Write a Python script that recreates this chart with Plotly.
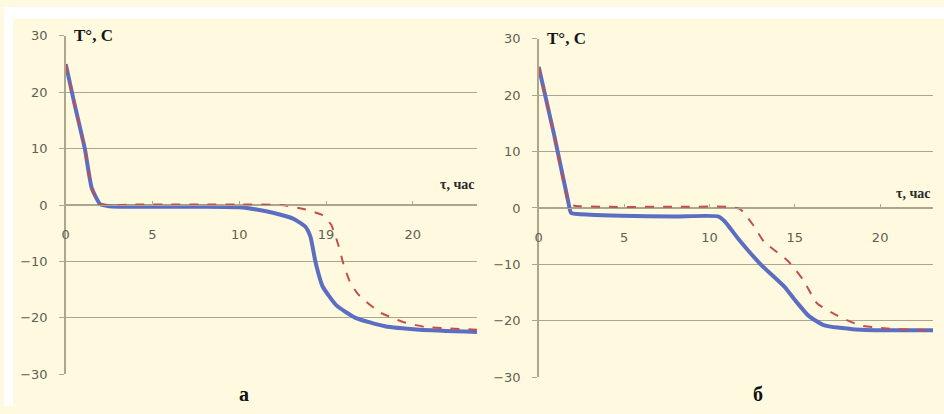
import plotly.graph_objects as go

# ---------------- data ----------------
# panel "а"
t_a_solid = [0, 0.5, 1.1, 1.5, 2.0, 2.5, 4, 6, 8, 10, 11, 12, 13.1, 13.8, 14.1, 14.4,
             14.8, 15.6, 16.7, 18.4, 20.4, 23.7]
T_a_solid = [25, 18, 10, 3, 0.1, -0.2, -0.3, -0.3, -0.3, -0.4, -0.8, -1.4, -2.4, -3.8, -5.6, -10.2,
             -14.4, -17.8, -20.0, -21.5, -22.1, -22.5]
t_a_dash = [0, 0.5, 1.1, 1.5, 2.0, 4, 6, 8, 10, 12.4, 13.7, 14.8, 15.3, 15.7, 16.0, 16.4,
            16.9, 18.1, 19.4, 20.7, 23.7]
T_a_dash = [25, 18, 10, 3, 0.2, 0.1, 0.1, 0.1, 0.1, 0.0, -0.7, -1.8, -3.5, -7.0, -10.4, -13.8,
            -16.0, -19.0, -20.7, -21.6, -22.1]

# panel "б"
t_b_solid = [0, 0.9, 1.75, 1.9, 3, 4.8, 8, 10.5, 10.9, 11.7, 13.0, 14.4, 15.0, 15.8, 16.7,
             18.4, 20.4, 23.1]
T_b_solid = [25, 13, 0.8, -0.9, -1.2, -1.4, -1.5, -1.5, -2.4, -5.5, -10.0, -14.0, -16.3, -19.1,
             -20.8, -21.5, -21.7, -21.7]
t_b_dash = [0, 0.9, 1.75, 2.1, 4, 8, 11.0, 11.8, 12.6, 13.2, 14.6, 15.5, 16.3, 17.5, 18.8,
            20.4, 23.1]
T_b_dash = [25, 13, 1.0, 0.4, 0.2, 0.2, 0.2, -0.2, -3.2, -6.0, -9.4, -12.8, -16.9, -19.1, -20.8,
            -21.4, -21.7]

y_ticks = [-30, -20, -10, 0, 10, 20, 30]
x_ticks = [0, 5, 10, 15, 20]
x_ticktext_a = ["0", "5", "10", "19", "20"]
x_ticktext_b = ["0", "5", "10", "15", "20"]
y_title = "T°, C"
x_title = "τ, час"
panel_labels = ["а", "б"]

# ---------------- style ----------------
W, H = 944, 414
CREAM = "#FFFADF"
GRID = "#ABA78C"
TICKC = "#5F5F52"
BLUE = "#5B6EC2"
RED = "#C0504D"

fig = go.Figure()

panels = [
    dict(xa="x", ya="y", xdom=[62 / W, 475 / W], ydom=[1 - 381 / H, 1 - 30 / H],
         xmax=23.7, data=[(t_a_solid, T_a_solid), (t_a_dash, T_a_dash)], tt=x_ticktext_a,
         lab=panel_labels[0], labx=241 / W, xt_y=3.6),
    dict(xa="x2", ya="y2", xdom=[537 / W, 933 / W], ydom=[1 - 384 / H, 1 - 33 / H],
         xmax=23.1, data=[(t_b_solid, T_b_solid), (t_b_dash, T_b_dash)], tt=x_ticktext_b,
         lab=panel_labels[1], labx=757 / W, xt_y=2.6),
]

annotations = []
for i, p in enumerate(panels):
    (ts, Ts), (td, Td) = p["data"]
    fig.add_trace(go.Scatter(x=ts, y=Ts, mode="lines", xaxis=p["xa"], yaxis=p["ya"],
                             line=dict(color=BLUE, width=4, shape="spline", smoothing=0.5),
                             showlegend=False))
    fig.add_trace(go.Scatter(x=td, y=Td, mode="lines", xaxis=p["xa"], yaxis=p["ya"],
                             line=dict(color=RED, width=2, dash="dash", shape="spline",
                                       smoothing=0.5),
                             showlegend=False))
    sfx = "" if i == 0 else "2"
    ymid = (p["ydom"][0] + p["ydom"][1]) / 2
    fig.update_layout(**{
        "xaxis" + sfx: dict(domain=p["xdom"], range=[0, p["xmax"]], anchor="free",
                            position=ymid, showgrid=False, zeroline=False,
                            showline=True, linecolor=GRID, linewidth=1,
                            tickvals=x_ticks, ticktext=p["tt"], ticks="inside",
                            ticklen=4, tickcolor=GRID,
                            tickfont=dict(family="DejaVu Sans", size=13, color=TICKC),
                            ticklabelstandoff=17, fixedrange=True),
        "yaxis" + sfx: dict(domain=p["ydom"], range=[-30, 30], anchor=p["xa"],
                            tickvals=y_ticks, showgrid=True, gridcolor=GRID, gridwidth=1.3,
                            zeroline=False, showline=True, linecolor=GRID, linewidth=1.5,
                            ticks="outside", ticklen=5, tickcolor=GRID,
                            tickfont=dict(family="DejaVu Sans", size=13, color=TICKC),
                            ticklabelstandoff=9, fixedrange=True),
    })
    annotations.append(dict(x=0.35, y=30, xref=p["xa"], yref=p["ya"],
                            text="<b>" + y_title + "</b>",
                            showarrow=False, xanchor="left", yanchor="middle",
                            bgcolor=CREAM, borderpad=1,
                            font=dict(family="Liberation Serif", size=17, color="#151515")))
    annotations.append(dict(x=p["xmax"], y=p["xt_y"], xref=p["xa"], yref=p["ya"],
                            text="<b>" + x_title + "</b>", showarrow=False,
                            xanchor="right", yanchor="middle",
                            font=dict(family="Liberation Serif", size=14, color="#2A2A2A")))
    annotations.append(dict(x=p["labx"], y=0, xref="paper", yref="paper",
                            text="<b>" + p["lab"] + "</b>", showarrow=False,
                            xanchor="center", yanchor="bottom", borderpad=0,
                            font=dict(family="Liberation Serif", size=20, color="#111111")))

fig.update_layout(
    width=W, height=H, margin=dict(l=0, r=0, t=0, b=0),
    paper_bgcolor=CREAM, plot_bgcolor=CREAM,
    annotations=annotations,
    shapes=[
        dict(type="rect", xref="paper", yref="paper", x0=0, x1=1, y0=1 - 12 / H, y1=1,
             fillcolor="white", line=dict(width=0), layer="below"),
        dict(type="rect", xref="paper", yref="paper", x0=0, x1=9 / W, y0=0, y1=1,
             fillcolor="white", line=dict(width=0), layer="below"),
    ],
)

fig.write_html("out.html",
               config={"displayModeBar": False, "staticPlot": True},
               post_script="document.body.style.margin='0';"
                           "document.body.style.overflow='hidden';")
